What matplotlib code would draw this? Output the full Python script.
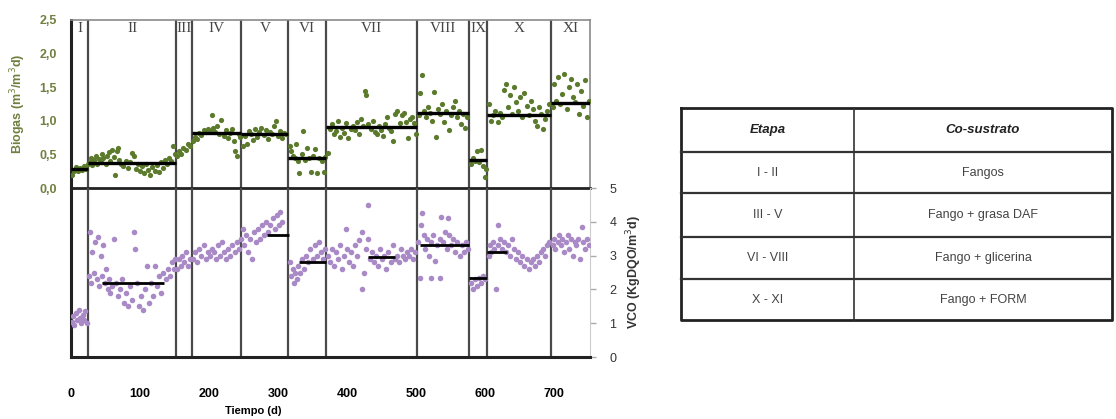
import matplotlib
matplotlib.use("Agg")
import matplotlib.pyplot as plt
from matplotlib.lines import Line2D

W, H = 1116, 419

# ---------------- data ----------------
stage_names = ["I", "II", "III", "IV", "V", "VI", "VII", "VIII", "IX", "X", "XI"]
stage_bounds = [0, 25, 152, 175, 247, 315, 370, 502, 577, 603, 696, 752]

# stage mean lines: (start, end, value)
biogas_means = [(0, 25, 0.28), (25, 152, 0.37), (175, 247, 0.82), (247, 315, 0.81),
                (315, 370, 0.44), (370, 502, 0.91), (502, 577, 1.12), (577, 603, 0.42),
                (603, 696, 1.09), (696, 752, 1.27)]
vco_means = [(45, 135, 2.2), (284, 316, 3.6), (330, 370, 2.8), (430, 470, 2.95),
             (505, 577, 3.3), (577, 603, 2.33), (603, 632, 3.1)]

biogas_days = [
    1, 4, 7, 10, 13, 16, 19, 22, 24,
    27, 29, 31, 33, 36, 38, 40, 43, 45, 47, 50, 52, 55, 57, 60, 62, 64, 66, 68, 70,
    73, 76, 79, 82, 85, 88, 91, 94, 97, 100, 103, 106, 109, 112, 115, 118, 121, 124,
    127, 130, 133, 136, 139, 142, 145, 148, 150,
    154, 157, 160, 163, 166, 169, 172,
    177, 180, 183, 186, 189, 192, 195, 198, 201, 204, 206, 209, 212, 215, 218, 221,
    224, 227, 230, 233, 236, 238, 240, 243, 245,
    249, 252, 255, 258, 261, 264, 267, 270, 273, 276, 279, 282, 285, 288, 291, 294,
    297, 300, 303, 306, 309, 312,
    317, 319, 321, 324, 326, 329, 331, 334, 336, 339, 342, 345, 348, 351, 354, 357,
    360, 363, 366, 368,
    372, 375, 378, 381, 384, 387, 390, 393, 396, 399, 402, 405, 408, 411, 414, 417,
    420, 423, 426, 428, 431, 434, 437, 440, 443, 446, 449, 452, 455, 458, 461, 464,
    467, 470, 473, 476, 479, 482, 485, 488, 491, 494, 497, 500,
    504, 506, 508, 511, 514, 517, 520, 523, 526, 529, 532, 535, 538, 541, 544, 547,
    550, 553, 556, 559, 562, 565, 568, 571, 574,
    579, 582, 585, 588, 591, 594, 597, 600, 602,
    606, 609, 612, 615, 618, 621, 624, 627, 630, 633, 636, 639, 642, 645, 648, 651,
    654, 657, 660, 663, 666, 669, 672, 675, 678, 681, 684, 687, 690, 693,
    698, 700, 703, 706, 709, 712, 715, 718, 721, 724, 727, 730, 733, 736, 739, 742,
    745, 748, 750,
]
biogas_values = [
    0.20, 0.26, 0.31, 0.25, 0.30, 0.27, 0.33, 0.29, 0.35,
    0.38, 0.45, 0.34, 0.41, 0.47, 0.36, 0.43, 0.39, 0.50, 0.44, 0.35, 0.48, 0.53, 0.40,
    0.57, 0.46, 0.19, 0.55, 0.60, 0.42,
    0.36, 0.33, 0.40, 0.30, 0.38, 0.52, 0.48, 0.28, 0.35, 0.25, 0.32, 0.22, 0.36, 0.27,
    0.20, 0.31, 0.26, 0.34, 0.24, 0.38, 0.30, 0.42, 0.36, 0.45, 0.40, 0.62, 0.50,
    0.48, 0.55, 0.50, 0.60, 0.57, 0.65, 0.62,
    0.70, 0.76, 0.73, 0.82, 0.79, 0.86, 0.83, 0.88, 0.85, 1.08, 0.90, 0.84, 0.92, 0.80,
    1.01, 0.78, 0.86, 0.74, 0.82, 0.88, 0.70, 0.55, 0.48, 0.80, 0.76,
    0.62, 0.78, 0.65, 0.85, 0.80, 0.72, 0.88, 0.76, 0.83, 0.90, 0.79, 0.86, 0.73, 0.84,
    0.80, 0.92, 1.00, 0.78, 0.85, 0.74, 0.82, 0.80,
    0.62, 0.55, 0.48, 0.45, 0.65, 0.40, 0.22, 0.50, 0.85, 0.42, 0.60, 0.45, 0.24, 0.47,
    0.58, 0.22, 0.44, 0.40, 0.24, 0.46,
    0.52, 0.88, 0.95, 0.80, 0.85, 1.00, 0.76, 0.90, 0.82, 0.96, 0.74, 0.88, 0.93, 0.86,
    0.98, 0.80, 1.03, 0.92, 1.45, 1.38, 0.95, 0.88, 1.00, 0.84, 0.80, 0.92, 0.86, 0.78,
    0.95, 1.05, 0.90, 0.85, 0.70, 1.10, 1.15, 0.96, 1.08, 1.12, 0.98, 0.75, 1.02, 1.06,
    0.96, 0.80,
    1.08, 1.41, 1.68, 1.15, 1.05, 1.20, 1.12, 1.00, 1.43, 0.76, 1.18, 1.10, 1.25, 0.98,
    1.14, 0.87, 1.08, 1.20, 1.30, 1.05, 1.15, 0.95, 1.10, 0.90, 1.05,
    0.35, 0.45, 0.40, 0.55, 0.38, 0.57, 0.32, 0.16, 0.28,
    1.25, 1.00, 1.08, 1.15, 0.98, 1.12, 1.05, 1.46, 1.55, 1.20, 1.38, 1.10, 1.50, 1.28,
    1.15, 1.35, 1.05, 1.42, 1.22, 1.08, 1.30, 1.18, 1.00, 0.92, 1.20, 1.10, 0.88, 1.02,
    1.15, 1.25,
    1.20, 1.55, 1.30, 1.65, 1.25, 1.40, 1.70, 1.18, 1.50, 1.62, 1.35, 1.28, 1.55, 1.10,
    1.45, 1.22, 1.60, 1.05, 1.30,
]

vco_days = [
    1, 3, 5, 7, 9, 11, 13, 15, 17, 19, 21, 23,
    26, 27, 29, 31, 33, 35, 37, 39, 41, 43, 45, 47, 49, 51, 53, 55, 57, 60, 63, 65, 68,
    71, 74, 77, 80, 83, 86, 89, 92, 93, 95, 98, 101, 104, 107, 110, 113, 116, 119, 122,
    125, 128, 131, 134, 137, 140, 143, 146, 149, 151,
    154, 156, 159, 161, 164, 167, 170, 173,
    177, 180, 183, 186, 189, 192, 195, 198, 201, 204, 207, 210, 213, 216, 219, 222,
    225, 228, 231, 234, 237, 240, 243, 246,
    249, 251, 254, 256, 259, 262, 265, 268, 271, 274, 277, 280, 283, 286, 289, 292,
    295, 298, 301, 303, 306,
    317, 319, 321, 323, 325, 327, 329, 332, 335, 338, 341, 344, 347, 350, 353, 356,
    359, 362, 365, 368,
    372, 375, 378, 381, 384, 387, 390, 393, 396, 398, 400, 403, 406, 409, 412, 415,
    418, 421, 422, 424, 427, 430, 431, 433, 436, 439, 442, 445, 448, 451, 454, 457,
    460, 463, 466, 469, 472, 475, 478, 481, 484, 487, 490, 493, 496, 499,
    503, 505, 507, 509, 511, 513, 516, 519, 521, 522, 525, 528, 531, 534, 535, 536,
    539, 542, 545, 546, 548, 551, 554, 557, 560, 563, 566, 569, 572, 575,
    579, 582, 585, 588, 591, 594, 597, 600,
    605, 607, 609, 611, 613, 616, 618, 619, 621, 624, 627, 630, 633, 636, 639, 642,
    645, 648, 651, 654, 657, 660, 663, 666, 669, 672, 675, 678, 681, 684, 687, 690, 693,
    698, 700, 702, 705, 707, 710, 712, 715, 717, 720, 722, 725, 727, 730, 732, 735,
    738, 740, 742, 745, 747, 750,
]
vco_values = [
    1.05, 1.20, 0.95, 1.30, 1.10, 1.40, 1.15, 1.00, 1.25, 1.10, 1.35, 1.00,
    2.40, 3.70, 2.20, 3.10, 2.50, 3.40, 2.30, 3.55, 2.10, 3.00, 2.40, 3.30, 2.20, 2.60,
    2.00, 2.30, 1.90, 2.10, 3.50, 2.20, 1.80, 2.00, 2.30, 1.60, 1.90, 1.50, 2.10, 1.70,
    3.70, 3.20, 2.20, 1.50, 1.80, 1.40, 2.00, 2.70, 1.60, 2.20, 1.80, 2.70, 2.10, 2.40,
    1.90, 2.50, 2.30, 2.60, 2.40, 2.80, 2.60, 2.90,
    2.60, 2.90, 2.70, 3.00, 2.80, 3.10, 2.70, 2.90,
    2.90, 3.10, 2.80, 3.20, 3.00, 3.30, 2.90, 3.10, 3.00, 3.20, 3.10, 2.90, 3.30, 3.00,
    3.40, 3.10, 2.90, 3.20, 3.00, 3.30, 3.10, 3.40, 3.20, 3.50,
    3.80, 3.30, 3.60, 3.10, 3.50, 2.90, 3.70, 3.40, 3.80, 3.50, 3.90, 3.60, 4.00, 3.70,
    3.90, 4.10, 3.80, 4.20, 3.90, 4.30, 4.00,
    2.80, 2.40, 2.60, 2.20, 2.50, 2.30, 2.70, 2.50, 2.90, 2.60, 3.00, 2.80, 3.20, 2.90,
    3.30, 3.00, 3.40, 3.10, 2.90, 3.20,
    3.00, 2.80, 3.20, 2.70, 3.10, 2.90, 3.30, 2.60, 3.00, 3.80, 3.20, 2.80, 3.10, 2.70,
    3.30, 3.00, 3.45, 2.00, 3.70, 2.50, 3.20, 4.50, 3.50, 2.90, 3.10, 2.80, 3.00, 2.70,
    3.20, 2.90, 3.00, 2.60, 3.10, 2.80, 3.30, 2.90, 3.00, 2.80, 3.20, 3.00, 2.90, 3.10,
    3.00, 3.20, 2.90, 3.10,
    3.40, 2.35, 3.90, 4.25, 3.60, 3.20, 3.50, 3.00, 2.35, 3.40, 3.60, 2.85, 3.30, 3.50,
    2.35, 4.15, 3.40, 3.70, 3.20, 4.10, 3.60, 3.30, 3.50, 3.10, 3.40, 3.00, 3.30, 3.10,
    3.40, 3.20,
    2.20, 2.00, 2.30, 2.10, 2.35, 2.20, 2.40, 2.30,
    3.00, 3.30, 3.10, 3.40, 3.20, 2.00, 3.90, 3.30, 3.50, 3.20, 3.40, 3.10, 3.30, 3.00,
    3.50, 3.20, 2.90, 3.10, 2.80, 3.00, 2.70, 2.90, 2.60, 2.80, 2.90, 2.70, 3.00, 2.80,
    3.10, 3.20, 3.00, 3.30, 3.40,
    3.30, 3.50, 3.20, 3.40, 3.60, 3.30, 3.50, 3.10, 3.40, 3.60, 3.20, 3.50, 3.00, 3.40,
    3.30, 3.50, 2.90, 3.85, 3.40, 3.20, 3.50, 3.30,
]

x_ticks = [0, 100, 200, 300, 400, 500, 600, 700]
biogas_ticks = [0.0, 0.5, 1.0, 1.5, 2.0, 2.5]
vco_ticks = [0, 1, 2, 3, 4, 5]

table_header = ["Etapa", "Co-sustrato"]
table_etapas = ["I - II", "III - V", "VI - VIII", "X - XI"]
table_cosustratos = ["Fangos", "Fango + grasa DAF", "Fango + glicerina", "Fango + FORM"]

# ---------------- styling ----------------
GREEN = "#5b7a2b"
GREEN_TXT = "#6f8040"
PURPLE = "#a98ac6"
VLINE = "#4a4a4a"
FONT = "Liberation Sans"

fig = plt.figure(figsize=(W / 100, H / 100), dpi=100)

def px_axes(x0, y0, x1, y1):
    return fig.add_axes([x0 / W, 1 - y1 / H, (x1 - x0) / W, (y1 - y0) / H])

X0, X1 = 71, 590
ax_top = px_axes(X0, 20, X1, 188)
ax_bot = px_axes(X0, 188, X1, 357)

XMAX = 752
for ax in (ax_top, ax_bot):
    ax.set_xlim(0, XMAX)
    ax.set_facecolor("none")

# top panel
ax_top.set_ylim(0, 2.5)
ax_top.scatter(biogas_days, biogas_values, s=14, color=GREEN, linewidths=0, zorder=3)
for s, e, v in biogas_means:
    ax_top.plot([s, e], [v, v], color="black", lw=2.4, solid_capstyle="butt", zorder=4)
ax_top.set_xticks([])
ax_top.set_yticks(biogas_ticks)
ax_top.set_yticklabels([f"{t:.1f}".replace(".", ",") for t in biogas_ticks],
                       fontsize=9, color=GREEN_TXT, fontweight="bold", family=FONT)
ax_top.tick_params(axis="y", length=0, pad=10)
for sp in ("top", "right"):
    ax_top.spines[sp].set_color("#8a8a8a")
    ax_top.spines[sp].set_linewidth(1.2)
ax_top.spines["left"].set_color("#222222")
ax_top.spines["left"].set_linewidth(2.2)
ax_top.spines["bottom"].set_color("#222222")
ax_top.spines["bottom"].set_linewidth(2.0)
ax_top.set_ylabel("Biogas (m$^3$/m$^3$d)", color=GREEN_TXT, fontsize=9,
                  fontweight="bold", family=FONT, labelpad=8)

for name, s, e in zip(stage_names, stage_bounds[:-1], stage_bounds[1:]):
    ax_top.text((s + e) / 2, 2.38, name, ha="center", va="center", fontsize=11,
                color="#444444", family="Liberation Serif")

for b in stage_bounds[1:-1]:
    ax_top.axvline(b, color=VLINE, lw=1.6, zorder=2)
    ax_bot.axvline(b, color=VLINE, lw=1.6, zorder=2)

# bottom panel
ax_bot.set_ylim(0, 5)
ax_bot.scatter(vco_days, vco_values, s=16, color=PURPLE, linewidths=0, zorder=3)
for s, e, v in vco_means:
    ax_bot.plot([s, e], [v, v], color="black", lw=2.0, solid_capstyle="butt", zorder=4)
ax_bot.yaxis.tick_right()
ax_bot.yaxis.set_label_position("right")
ax_bot.set_yticks(vco_ticks)
ax_bot.set_yticklabels([str(t) for t in vco_ticks], fontsize=9, color="#333333",
                       family=FONT)
ax_bot.tick_params(axis="y", length=4, width=1, color="#aaaaaa", pad=10)
ax_bot.set_xticks(x_ticks)
ax_bot.set_xticklabels([str(t) for t in x_ticks], fontsize=9, fontweight="bold",
                       family=FONT)
ax_bot.tick_params(axis="x", length=0, pad=22)
ax_bot.spines["top"].set_visible(False)
ax_bot.spines["right"].set_color("#cccccc")
ax_bot.spines["right"].set_linewidth(0.8)
ax_bot.spines["left"].set_color("#222222")
ax_bot.spines["left"].set_linewidth(2.2)
ax_bot.spines["bottom"].set_color("#222222")
ax_bot.spines["bottom"].set_linewidth(2.2)
ax_bot.set_ylabel("VCO (KgDQO/m$^3$d)", fontsize=9, fontweight="bold", family=FONT,
                  color="#333333", rotation=90, labelpad=6)
fig.text(253 / W, 1 - 411 / H, "Tiempo (d)", ha="center", va="center", fontsize=8,
         fontweight="bold", family=FONT)

# ---------------- table ----------------
tx0, tx1, tdiv = 681, 1112, 854
row_y = [108, 152, 193, 237, 279, 320]
tab = fig.add_axes([0, 0, 1, 1])
tab.set_xlim(0, W)
tab.set_ylim(H, 0)
tab.axis("off")
tab.patch.set_alpha(0)
tab.add_line(Line2D([tx0, tx1, tx1, tx0, tx0],
                    [row_y[0], row_y[0], row_y[-1], row_y[-1], row_y[0]],
                    color="#222222", lw=2.0))
tab.add_line(Line2D([tdiv, tdiv], [row_y[0], row_y[-1]], color="#333333", lw=1.2))
for y in row_y[1:-1]:
    tab.add_line(Line2D([tx0, tx1], [y, y], color="#333333", lw=1.6))
c1 = (tx0 + tdiv) / 2
c2 = (tdiv + tx1) / 2
yh = (row_y[0] + row_y[1]) / 2
tab.text(c1, yh, table_header[0], ha="center", va="center", fontsize=9.5,
         fontweight="bold", style="italic", family=FONT, color="#222222")
tab.text(c2, yh, table_header[1], ha="center", va="center", fontsize=9.5,
         fontweight="bold", style="italic", family=FONT, color="#222222")
for i, (et, co) in enumerate(zip(table_etapas, table_cosustratos)):
    yc = (row_y[i + 1] + row_y[i + 2]) / 2
    tab.text(c1, yc, et, ha="center", va="center", fontsize=9, family=FONT,
             color="#444444")
    tab.text(c2, yc, co, ha="center", va="center", fontsize=9, family=FONT,
             color="#444444")

fig.savefig("out.png", dpi=100)
